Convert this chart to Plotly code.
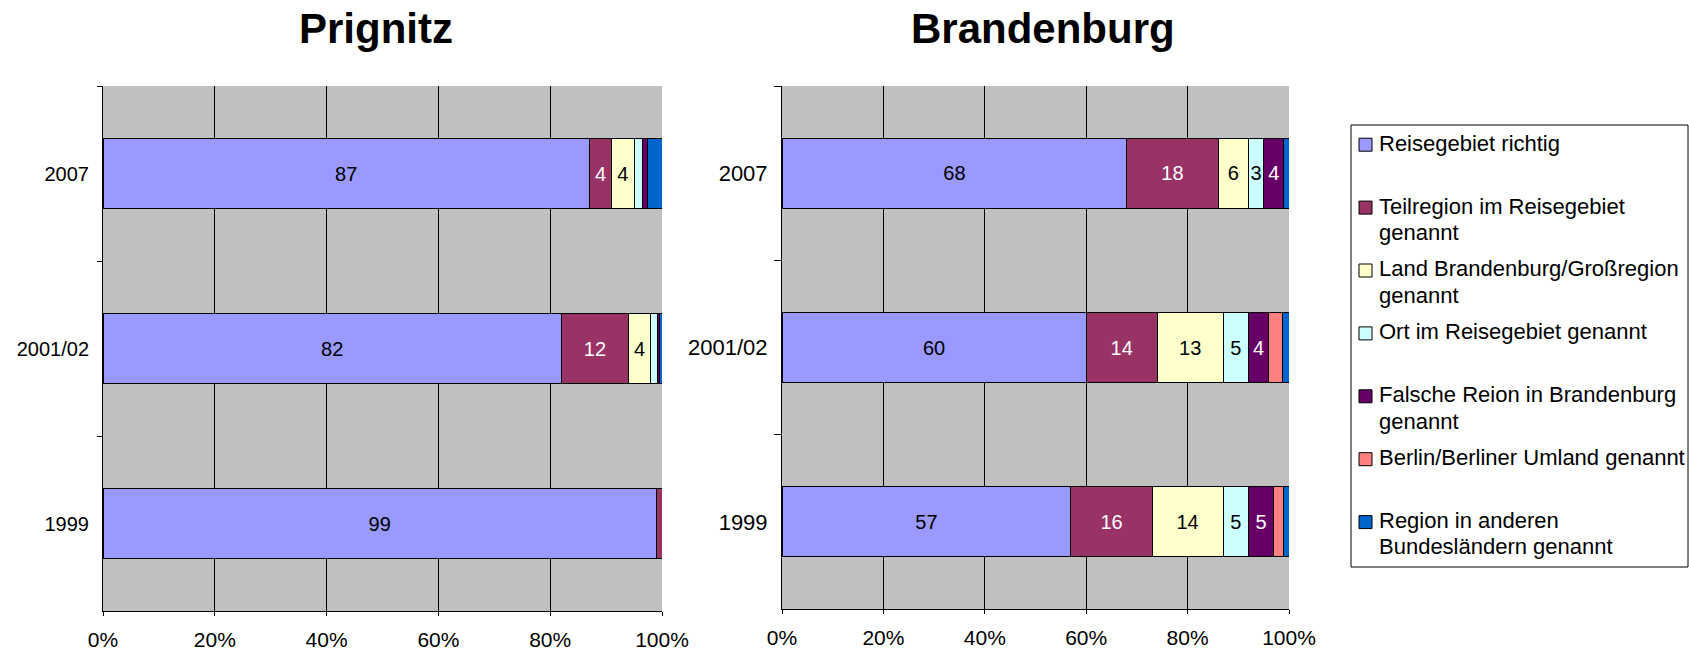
import plotly.graph_objects as go

# Survey waves (top to bottom)
years = ["2007", "2001/02", "1999"]

# Answer categories and their colours
series_names = [
    "Reisegebiet richtig",
    "Teilregion im Reisegebiet genannt",
    "Land Brandenburg/Großregion genannt",
    "Ort im Reisegebiet genannt",
    "Falsche Reion in Brandenburg genannt",
    "Berlin/Berliner Umland genannt",
    "Region in anderen Bundesländern genannt",
]
legend_lines = [
    ["Reisegebiet richtig"],
    ["Teilregion im Reisegebiet", "genannt"],
    ["Land Brandenburg/Großregion", "genannt"],
    ["Ort im Reisegebiet genannt"],
    ["Falsche Reion in Brandenburg", "genannt"],
    ["Berlin/Berliner Umland genannt"],
    ["Region in anderen", "Bundesländern genannt"],
]
colors = ["#9999FF", "#993366", "#FFFFCC", "#CCFFFF", "#660066", "#FF8080", "#0066CC"]
text_colors = ["black", "white", "black", "black", "white", "black", "white"]

# Shares in percent per category, ordered like `years`
prignitz_richtig = [87, 82, 99]
prignitz_teilregion = [4, 12, 1]
prignitz_land = [4, 4, 0]
prignitz_ort = [1.6, 1.2, 0]
prignitz_falsch = [0.8, 0.3, 0]
prignitz_berlin = [0, 0, 0]
prignitz_andere = [2.6, 0.5, 0]

brandenburg_richtig = [68, 60, 57]
brandenburg_teilregion = [18, 14, 16]
brandenburg_land = [6, 13, 14]
brandenburg_ort = [3, 5, 5]
brandenburg_falsch = [4, 4, 5]
brandenburg_berlin = [0, 2.8, 2]
brandenburg_andere = [1, 1.2, 1]

prignitz = [prignitz_richtig, prignitz_teilregion, prignitz_land, prignitz_ort,
            prignitz_falsch, prignitz_berlin, prignitz_andere]
brandenburg = [brandenburg_richtig, brandenburg_teilregion, brandenburg_land, brandenburg_ort,
               brandenburg_falsch, brandenburg_berlin, brandenburg_andere]

x_ticks = [0, 20, 40, 60, 80, 100]
x_ticktext = [f"{v}%" for v in x_ticks]

FONT = "Liberation Sans, Arial, sans-serif"
W, H = 1689, 651


def px(x):
    return x / W


def py(y):
    return 1 - y / H


def label(v):
    return f"{v:g}" if v >= 3 else ""


fig = go.Figure()

for panel, (data, xa, ya) in enumerate([(prignitz, "x", "y"), (brandenburg, "x2", "y2")]):
    for i, vals in enumerate(data):
        fig.add_trace(go.Bar(
            y=years, x=vals, orientation="h",
            name=series_names[i], showlegend=False,
            xaxis=xa, yaxis=ya,
            marker=dict(color=colors[i], line=dict(color="black", width=1)),
            text=[label(v) for v in vals],
            textposition="inside", insidetextanchor="middle", textangle=0,
            constraintext="none",
            textfont=dict(family=FONT, size=20, color=text_colors[i]),
            hovertemplate="%{y}: %{x}<extra>" + series_names[i] + "</extra>",
        ))

xaxis_common = dict(
    range=[0, 100], tickvals=x_ticks, ticktext=x_ticktext,
    showgrid=True, gridcolor="black", gridwidth=1, zeroline=False,
    showline=True, linecolor="black", linewidth=1,
    ticks="outside", ticklen=4, tickcolor="black", ticklabelstandoff=6,
    tickfont=dict(family=FONT, size=21, color="black"),
    automargin=False, fixedrange=True,
)
yaxis_common = dict(
    type="category", categoryorder="array", categoryarray=years,
    autorange="reversed", showgrid=False, zeroline=False,
    showline=True, linecolor="black", linewidth=1,
    ticks="outside", tickson="boundaries", tickcolor="black",
    automargin=False, fixedrange=True,
)

fig.update_layout(
    width=W, height=H, autosize=False,
    margin=dict(l=0, r=0, t=0, b=0, pad=0, autoexpand=False),
    paper_bgcolor="white", plot_bgcolor="#C0C0C0",
    barmode="stack", bargap=0.6, showlegend=False,
    font=dict(family=FONT, color="black"),
    xaxis=dict(domain=[px(103), px(662)], anchor="y", **xaxis_common),
    yaxis=dict(domain=[py(611), py(86)], anchor="x", ticklen=5, ticklabelstandoff=9,
               tickfont=dict(family=FONT, size=20, color="black"), **yaxis_common),
    xaxis2=dict(domain=[px(782), px(1289)], anchor="y2", **xaxis_common),
    yaxis2=dict(domain=[py(609), py(86)], anchor="x2", ticklen=7, ticklabelstandoff=9,
                tickfont=dict(family=FONT, size=22, color="black"), **yaxis_common),
)

annotations = []
shapes = []

# Panel titles
for title, cx in [("Prignitz", 376), ("Brandenburg", 1043)]:
    annotations.append(dict(
        text=f"<b>{title}</b>", x=px(cx), y=py(28.5), xref="paper", yref="paper",
        xanchor="center", yanchor="middle", showarrow=False,
        font=dict(family=FONT, size=42, color="black"),
    ))

# Legend box with coloured keys
shapes.append(dict(type="rect", xref="paper", yref="paper",
                   x0=px(1351), x1=px(1688), y0=py(125), y1=py(567),
                   line=dict(color="black", width=1), fillcolor="white", layer="below"))
first_baseline = 150.7
entry_step = 62.9
line_step = 26.5
legend_size = 22
for i, lines in enumerate(legend_lines):
    base = first_baseline + i * entry_step
    mc = base - 6
    shapes.append(dict(type="rect", xref="paper", yref="paper",
                       x0=px(1359), x1=px(1372), y0=py(mc + 6.5), y1=py(mc - 6.5),
                       line=dict(color="black", width=1), fillcolor=colors[i]))
    for j, txt in enumerate(lines):
        b = base + j * line_step
        annotations.append(dict(
            text=txt, x=px(1377), y=py(b - 7.6), xref="paper", yref="paper",
            xanchor="left", yanchor="middle", showarrow=False,
            font=dict(family=FONT, size=legend_size, color="black"),
        ))

fig.update_layout(annotations=annotations, shapes=shapes)

fig.write_html("out.html")
